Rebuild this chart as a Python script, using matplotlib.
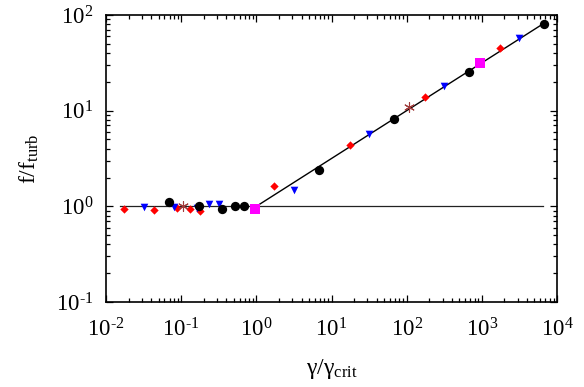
import matplotlib
matplotlib.use("Agg")
import matplotlib.pyplot as plt
from matplotlib.ticker import LogLocator, FixedLocator, FixedFormatter, NullFormatter

plt.rcParams['font.family'] = ['Liberation Serif', 'DejaVu Serif']
plt.rcParams['mathtext.fontset'] = 'custom'
plt.rcParams['mathtext.rm'] = 'Liberation Serif'
plt.rcParams['mathtext.it'] = 'Liberation Serif:italic'

# Data
circ_x = [0.0689, 0.1725, 0.349, 0.519, 0.684, 6.87, 68.2, 678, 6750]
circ_y = [1.10, 1.02, 0.93, 1.0, 1.0, 2.38, 8.18, 25.6, 80.5]

diam_x = [0.0173, 0.0435, 0.088, 0.131, 0.178, 1.71, 17.6, 173, 1740]
diam_y = [0.93, 0.91, 0.95, 0.93, 0.89, 1.62, 4.36, 13.9, 44.8]

tri_x = [0.032, 0.080, 0.162, 0.234, 0.318, 3.16, 31.4, 313, 3133]
tri_y = [0.98, 0.98, 0.95, 1.07, 1.07, 1.47, 5.66, 18.1, 57.4]

sq_x = [0.957, 940]
sq_y = [0.93, 31.5]

star_x = [0.106, 108]
star_y = [1.0, 10.8]

flat_x = [0.0153, 6500]
flat_y = [1.0, 1.0]
slope_x = [1.0, 6750]
slope_y = [1.0, 82.2]

xticks = [1e-2, 1e-1, 1e0, 1e1, 1e2, 1e3, 1e4]
xticklabels = [r'$\mathregular{10^{\text{-}2}}$', r'$\mathregular{10^{\text{-}1}}$', r'$\mathregular{10^{0}}$',
               r'$\mathregular{10^{1}}$', r'$\mathregular{10^{2}}$', r'$\mathregular{10^{3}}$',
               r'$\mathregular{10^{4}}$']
yticks = [1e-1, 1e0, 1e1, 1e2]
yticklabels = [r'$\mathregular{10^{\text{-}1}}$', r'$\mathregular{10^{0}}$',
               r'$\mathregular{10^{1}}$', r'$\mathregular{10^{2}}$']

fig = plt.figure(figsize=(5.84, 3.87), dpi=100)
ax = fig.add_axes([106/584, 1-302/387, (557-106)/584, (302-15)/387])

ax.plot(flat_x, flat_y, color='#222222', lw=0.9, zorder=1)
ax.plot(slope_x, slope_y, color='black', lw=1.0, zorder=1)

ax.scatter(diam_x, diam_y, marker='D', s=18, color='#ff0000', zorder=3, linewidths=0)
ax.scatter(tri_x, tri_y, marker='v', s=30, color='#0000ff', zorder=3, linewidths=0)
ax.scatter(circ_x, circ_y, marker='o', s=45, color='black', zorder=3, linewidths=0)
ax.scatter(sq_x, sq_y, marker='s', s=45, color='#ff00ff', zorder=3, linewidths=0)
ax.scatter(star_x, star_y, marker=(6, 2, 0), s=50, color='#a03a3a', zorder=3, linewidths=0.8)

ax.set_xscale('log')
ax.set_yscale('log')
ax.set_xlim(1e-2, 1e4)
ax.set_ylim(1e-1, 1e2)

ax.xaxis.set_major_locator(FixedLocator(xticks))
ax.xaxis.set_major_formatter(FixedFormatter(xticklabels))
ax.yaxis.set_major_locator(FixedLocator(yticks))
ax.yaxis.set_major_formatter(FixedFormatter(yticklabels))
ax.xaxis.set_minor_locator(LogLocator(base=10, subs=range(2, 10), numticks=20))
ax.yaxis.set_minor_locator(LogLocator(base=10, subs=range(2, 10), numticks=20))
ax.xaxis.set_minor_formatter(NullFormatter())
ax.yaxis.set_minor_formatter(NullFormatter())

ax.tick_params(which='both', direction='in', top=True, right=True, labelsize=16.5, width=0.9)
ax.tick_params(axis='x', which='major', length=5, pad=12)
ax.tick_params(axis='y', which='major', length=5, pad=9)
ax.tick_params(which='minor', length=3)
for s in ax.spines.values():
    s.set_linewidth(1.2)

ax.set_xlabel(r'$\mathregular{γ/γ_{crit}}$', fontsize=17, labelpad=11)
ax.set_ylabel(r'$\mathregular{f/f_{turb}}$', fontsize=17, labelpad=11)

fig.savefig('out.png', dpi=100)
